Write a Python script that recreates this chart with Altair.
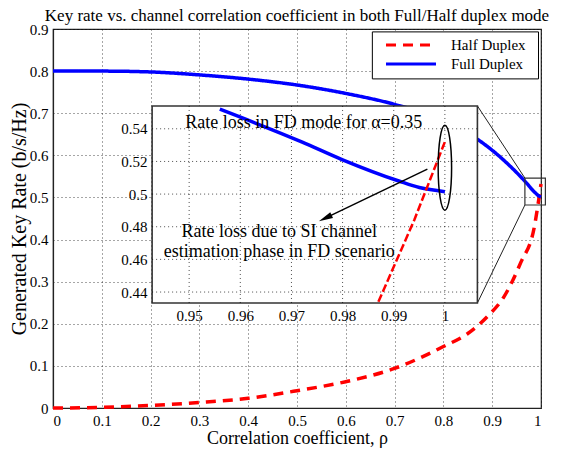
import math
import altair as alt
import pandas as pd

# ---------------- data ----------------
series_names = ["Half Duplex", "Full Duplex"]
rho_half = [0.0, 0.1, 0.2, 0.3, 0.4, 0.5, 0.6, 0.7, 0.8, 0.85, 0.89, 0.924, 0.958, 0.987, 0.994, 1.0]
rate_half = [0.0, 0.0015, 0.006, 0.013, 0.023, 0.041, 0.0625, 0.094, 0.146, 0.177, 0.217, 0.264, 0.344, 0.434, 0.484, 0.532]
rho_full = [0.0, 0.1, 0.2, 0.3, 0.4, 0.5, 0.6, 0.7, 0.8, 0.87, 0.9, 0.937, 0.956, 0.972, 0.98, 0.991, 0.995, 1.0]
rate_full = [0.800, 0.800, 0.798, 0.791, 0.781, 0.767, 0.747, 0.721, 0.684, 0.638, 0.612, 0.574, 0.552, 0.532, 0.521, 0.508, 0.504, 0.5015]

main_xticks = [0, 0.1, 0.2, 0.3, 0.4, 0.5, 0.6, 0.7, 0.8, 0.9, 1]
main_yticks = [0, 0.1, 0.2, 0.3, 0.4, 0.5, 0.6, 0.7, 0.8, 0.9]
inset_xticks = [0.95, 0.96, 0.97, 0.98, 0.99, 1]
inset_yticks = [0.44, 0.46, 0.48, 0.5, 0.52, 0.54]

title_text = "Key rate vs. channel correlation coefficient in both Full/Half duplex mode"
x_title = "Correlation coefficient, \u03c1"
y_title = "Generated Key Rate (b/s/Hz)"
note_top = "Rate loss in FD mode for \u03b1=0.35"
note_arrow = ["Rate loss due to SI channel", "estimation phase in FD scenario"]

# ---------------- layout ----------------
FONT = "Liberation Serif"
W, H = 488, 379
X_DOM = [0.0, 1.0]
Y_DOM = [0.0, 0.9]
INSET_BOX = (0.2031, 0.8697, 0.2494, 0.7173)      # inset frame in main units
INSET_XDOM = [0.94276, 1.00636]
INSET_YDOM = [0.4333, 0.554]
ZOOM_BOX = (0.967, 1.009, 0.482, 0.546)
LEGEND_BOX = (0.6544, 0.9949, 0.7815, 0.8931)


def px_x(v):
    return (v - X_DOM[0]) / (X_DOM[1] - X_DOM[0]) * W


def px_y(v):
    return (1 - (v - Y_DOM[0]) / (Y_DOM[1] - Y_DOM[0])) * H


ix_range = [px_x(INSET_BOX[0]), px_x(INSET_BOX[1])]
iy_range = [px_y(INSET_BOX[2]), px_y(INSET_BOX[3])]


def ipx_x(v):
    return ix_range[0] + (v - INSET_XDOM[0]) / (INSET_XDOM[1] - INSET_XDOM[0]) * (ix_range[1] - ix_range[0])


def ipx_y(v):
    return iy_range[0] + (v - INSET_YDOM[0]) / (INSET_YDOM[1] - INSET_YDOM[0]) * (iy_range[1] - iy_range[0])


df = pd.concat([
    pd.DataFrame({"rho": rho_half, "rate": rate_half, "series": series_names[0]}),
    pd.DataFrame({"rho": rho_full, "rate": rate_full, "series": series_names[1]}),
])
one = pd.DataFrame({"k": [0]})

mxs = alt.Scale(domain=X_DOM, range=[0, W], nice=False, zero=False)
mys = alt.Scale(domain=Y_DOM, range=[H, 0], nice=False, zero=False)
ixs = alt.Scale(domain=INSET_XDOM, range=ix_range, nice=False, zero=False)
iys = alt.Scale(domain=INSET_YDOM, range=iy_range, nice=False, zero=False)

color_scale = alt.Scale(domain=series_names, range=["#ff0000", "#0000ff"])
dash_scale = alt.Scale(domain=series_names, range=[[10, 7], [1, 0]])

legend = alt.Legend(
    orient="none", legendX=340, legendY=7, title=None,
    symbolType="M-3.333,0H3.333", symbolSize=225, symbolStrokeWidth=3,
    symbolOffset=9, labelOffset=31, padding=0, rowPadding=2,
    labelFont=FONT, labelFontSize=15, labelColor="black", direction="vertical",
)

# ---------------- main panel ----------------
main_axes = alt.Chart(df).mark_line(opacity=0).encode(
    x=alt.X("rho:Q", scale=mxs, title=x_title,
            axis=alt.Axis(orient="bottom", values=main_xticks, format="~g", grid=True,
                          labelPadding=5, titlePadding=1)),
    y=alt.Y("rate:Q", scale=mys, title=y_title,
            axis=alt.Axis(orient="left", values=main_yticks, format="~g", grid=True,
                          labelPadding=5, titlePadding=0, titleFontSize=20)),
)

lines = alt.Chart(df).mark_line(strokeWidth=3.5, interpolate="monotone").encode(
    x=alt.X("rho:Q", scale=mxs, axis=None),
    y=alt.Y("rate:Q", scale=mys, axis=None),
    color=alt.Color("series:N", scale=color_scale, legend=legend),
    strokeDash=alt.StrokeDash("series:N", scale=dash_scale, legend=legend),
    order=alt.Order("rho:Q"),
)


def box_rect(box, **kw):
    return alt.Chart(one).mark_rect(**kw).encode(
        x=alt.XDatum(box[0], scale=mxs, axis=None), x2=alt.X2Datum(box[1]),
        y=alt.YDatum(box[2], scale=mys, axis=None), y2=alt.Y2Datum(box[3]),
    )


zoom_rect = box_rect(ZOOM_BOX, fillOpacity=0, stroke="#333333", strokeWidth=1.2)
legend_frame = box_rect(LEGEND_BOX, fill="white", stroke="black", strokeWidth=1)
inset_frame = box_rect(INSET_BOX, fill="white", stroke="#333333", strokeWidth=1.6)

conn_df = pd.DataFrame({
    "x": [INSET_BOX[1], INSET_BOX[1]], "y": [INSET_BOX[3], INSET_BOX[2]],
    "x2": [ZOOM_BOX[0], ZOOM_BOX[0]], "y2": [ZOOM_BOX[3], ZOOM_BOX[2]],
})
connectors = alt.Chart(conn_df).mark_rule(color="#222222", strokeWidth=1).encode(
    x=alt.X("x:Q", scale=mxs, axis=None), y=alt.Y("y:Q", scale=mys, axis=None),
    x2="x2:Q", y2="y2:Q",
)

# ---------------- inset panel ----------------
vgrid = alt.Chart(pd.DataFrame({"t": inset_xticks})).mark_rule(
    color="black", strokeDash=[1, 3], strokeWidth=1, opacity=0.7).encode(
    x=alt.X("t:Q", scale=ixs, title=None,
            axis=alt.Axis(orient="bottom", offset=iy_range[0] - H, values=inset_xticks, format="~g",
                          grid=False, ticks=False, domain=False, labelPadding=6)),
    y=alt.YDatum(INSET_YDOM[0], scale=iys, axis=None), y2=alt.Y2Datum(INSET_YDOM[1]),
)
hgrid = alt.Chart(pd.DataFrame({"t": inset_yticks})).mark_rule(
    color="black", strokeDash=[1, 3], strokeWidth=1, opacity=0.7).encode(
    y=alt.Y("t:Q", scale=iys, title=None,
            axis=alt.Axis(orient="left", offset=-ix_range[0], values=inset_yticks, format="~g",
                          grid=False, ticks=False, domain=False, labelPadding=5)),
    x=alt.XDatum(INSET_XDOM[0], scale=ixs, axis=None), x2=alt.X2Datum(INSET_XDOM[1]),
)

flt = (f"datum.rho >= {INSET_XDOM[0]} && datum.rho <= {INSET_XDOM[1]} && "
       f"datum.rate >= {INSET_YDOM[0]} && datum.rate <= {INSET_YDOM[1]}")
inset_full = alt.Chart(df).transform_filter(f"datum.series == '{series_names[1]}'").transform_filter(flt).mark_line(
    strokeWidth=3.5, interpolate="monotone", color="#0000ff").encode(
    x=alt.X("rho:Q", scale=ixs, axis=None), y=alt.Y("rate:Q", scale=iys, axis=None),
    order=alt.Order("rho:Q"))
inset_half = alt.Chart(df).transform_filter(f"datum.series == '{series_names[0]}'").transform_filter(flt).mark_line(
    strokeWidth=2.5, strokeDash=[8, 3], color="#ff0000").encode(
    x=alt.X("rho:Q", scale=ixs, axis=None), y=alt.Y("rate:Q", scale=iys, axis=None),
    order=alt.Order("rho:Q"))

text_top = alt.Chart(one).mark_text(text=note_top, font=FONT, fontSize=18, align="center",
                                     baseline="alphabetic", color="black").encode(
    x=alt.XDatum(0.9724, scale=ixs, axis=None), y=alt.YDatum(0.5403, scale=iys, axis=None))
text_arrow = alt.Chart(one).mark_text(text=note_arrow, font=FONT, fontSize=18, align="center",
                                       baseline="alphabetic", lineHeight=20, color="black").encode(
    x=alt.XDatum(0.9676, scale=ixs, axis=None), y=alt.YDatum(0.4739, scale=iys, axis=None))

A0 = (0.99658, 0.5153)
A1 = (0.97661, 0.4853)
arrow = alt.Chart(one).mark_rule(color="black", strokeWidth=1.5).encode(
    x=alt.XDatum(A0[0], scale=ixs, axis=None), y=alt.YDatum(A0[1], scale=iys, axis=None),
    x2=alt.X2Datum(A1[0]), y2=alt.Y2Datum(A1[1]))
ang = math.degrees(math.atan2(ipx_y(A1[1]) - ipx_y(A0[1]), ipx_x(A1[0]) - ipx_x(A0[0]))) % 360
head = alt.Chart(one).mark_point(shape="M-1,-0.45L1,0L-1,0.45Z", size=200, filled=True, color="black",
                                 angle=ang, opacity=1).encode(
    x=alt.XDatum(A1[0], scale=ixs, axis=None), y=alt.YDatum(A1[1], scale=iys, axis=None))
ellipse = alt.Chart(one).mark_point(shape="M0,-1A0.158,1,0,1,1,0,1A0.158,1,0,1,1,0,-1Z", size=7225,
                                    filled=False, stroke="black", strokeWidth=1.5, opacity=1).encode(
    x=alt.XDatum(1.0, scale=ixs, axis=None), y=alt.YDatum(0.5162, scale=iys, axis=None))

chart = alt.layer(
    main_axes, lines, zoom_rect, connectors, legend_frame, inset_frame,
    vgrid, hgrid, inset_full, inset_half, text_top, text_arrow, arrow, head, ellipse,
).resolve_scale(x="independent", y="independent").properties(
    width=W, height=H,
    title=alt.TitleParams(title_text, font=FONT, fontSize=17, fontWeight="normal", color="black",
                          anchor="middle", frame="group", offset=0, dy=3),
    autosize=alt.AutoSizeParams(type="none"),
    padding={"left": 45, "top": 21, "right": 17, "bottom": 40},
).configure(font=FONT).configure_axis(
    labelFont=FONT, labelFontSize=15, labelColor="black",
    titleFont=FONT, titleFontSize=18, titleFontWeight="normal", titleColor="black",
    domainColor="#222222", domainWidth=1.2, ticks=False,
    gridColor="black", gridDash=[1, 3], gridOpacity=0.7, gridWidth=1,
).configure_legend(labelFont=FONT).configure_title(font=FONT).configure_view(stroke="#222222", strokeWidth=1.2)

chart.save("out.html", embed_options={"renderer": "svg", "actions": False})
